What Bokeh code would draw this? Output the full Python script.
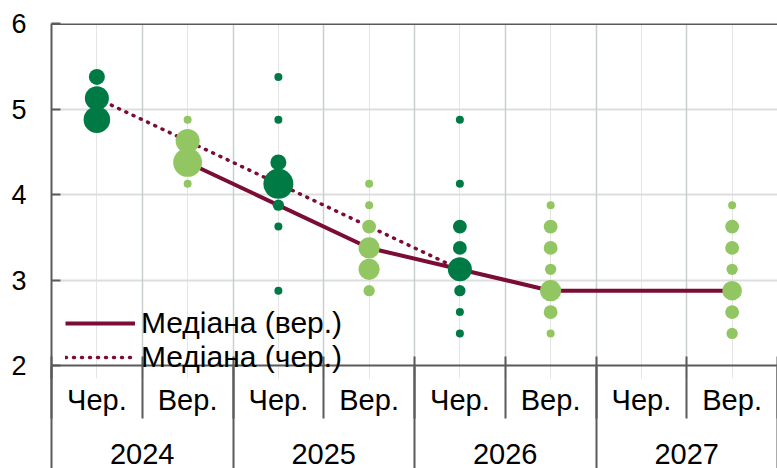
import math
from bokeh.plotting import figure
from bokeh.models import (FactorRange, Range1d, LinearAxis, FixedTicker, Grid, Span,
                          Legend, LegendItem, ColumnDataSource)
from bokeh.embed import file_html
from bokeh.resources import INLINE

# ---------------- data ----------------
years = ["2024", "2025", "2026", "2027"]
periods = ["Чер.", "Вер."]

# June survey (Чер.) dots: year, rate, number of answers
jun_year = ["2024", "2024", "2024",
            "2025", "2025", "2025", "2025", "2025", "2025", "2025",
            "2026", "2026", "2026", "2026", "2026", "2026", "2026", "2026"]
jun_rate = [5.375, 5.125, 4.875,
            5.375, 4.875, 4.375, 4.125, 3.875, 3.625, 2.875,
            4.875, 4.125, 3.625, 3.375, 3.125, 2.875, 2.625, 2.375]
jun_count = [4, 9, 11,
             1, 1, 4, 14, 2, 1, 1,
             1, 1, 3, 3, 9, 2, 1, 1]

# September survey (Вер.) dots
sep_year = ["2024", "2024", "2024", "2024",
            "2025", "2025", "2025", "2025", "2025", "2025",
            "2026", "2026", "2026", "2026", "2026", "2026", "2026",
            "2027", "2027", "2027", "2027", "2027", "2027", "2027"]
sep_rate = [4.875, 4.625, 4.375, 4.125,
            4.125, 3.875, 3.625, 3.375, 3.125, 2.875,
            3.875, 3.625, 3.375, 3.125, 2.875, 2.625, 2.375,
            3.875, 3.625, 3.375, 3.125, 2.875, 2.625, 2.375]
sep_count = [1, 9, 13, 1,
             1, 1, 3, 7, 7, 2,
             1, 3, 3, 2, 7, 3, 1,
             1, 3, 3, 2, 6, 3, 2]

# medians
med_jun_year = ["2024", "2025", "2026"]
med_jun = [5.125, 4.125, 3.125]
med_sep_year = ["2024", "2025", "2026", "2027"]
med_sep = [4.375, 3.375, 2.875, 2.875]

y_ticks = [2, 3, 4, 5, 6]

# ---------------- style ----------------
FONT = "Liberation Sans"
DARK = "#007A45"
LIGHT = "#92C662"
MAROON = "#7A0C35"
AXIS = "#5A5A5A"

factors = [(y, p) for y in years for p in periods]
x_range = FactorRange(factors=factors, factor_padding=0, group_padding=0,
                      subgroup_padding=0, range_padding=0)

# the frame reaches a little below the value 2 so that the legend is not clipped;
# the visible x-axis line is drawn at y = 2
p = figure(width=777, height=468, x_range=x_range, y_range=Range1d(1.848, 6),
           output_backend="svg", toolbar_location=None, x_axis_location=None,
           min_border_left=51, min_border_right=0, min_border_top=23,
           min_border_bottom=90)
p.outline_line_color = None
p.background_fill_color = "white"
p.border_fill_color = "white"

# y axis
yax = p.yaxis[0]
yax.ticker = FixedTicker(ticks=y_ticks)
yax.major_tick_in = 9
yax.major_tick_out = 0
yax.minor_tick_line_color = None
yax.axis_line_color = AXIS
yax.axis_line_width = 2
yax.major_tick_line_color = AXIS
yax.major_tick_line_width = 2
yax.major_label_text_font = FONT
yax.major_label_text_font_size = "27px"
yax.major_label_text_color = "black"
yax.major_label_standoff = 25

p.ygrid.ticker = FixedTicker(ticks=y_ticks[1:-1])
p.ygrid.grid_line_color = "#DCDEDE"
p.ygrid.grid_line_width = 2

# synthetic positions of the factor range (each factor is one unit wide)
nf = len(factors)
bounds_all = list(range(nf + 1))
bounds_year = list(range(0, nf + 1, 2))
centers = [i + 0.5 for i in range(nf)]
year_centers = [i + 1 for i in range(0, nf, 2)]

vgrid = Grid(dimension=0, ticker=FixedTicker(ticks=bounds_all[1:-1]),
             grid_line_color="#C9CED1", grid_line_width=1.5)
p.add_layout(vgrid)

# x axis level 1: survey month labels + short separators
ax1 = LinearAxis(ticker=FixedTicker(ticks=centers, minor_ticks=bounds_all),
                 major_label_overrides={c: f[1] for c, f in zip(centers, factors)})
ax1.axis_line_color = None
ax1.major_tick_in = 0
ax1.major_tick_out = 0
ax1.minor_tick_in = 22
ax1.minor_tick_out = 40
ax1.minor_tick_line_color = AXIS
ax1.minor_tick_line_width = 2
ax1.major_label_standoff = -35
ax1.major_label_text_font = FONT
ax1.major_label_text_font_size = "29px"
ax1.major_label_text_color = "black"
p.add_layout(ax1, "below")

# x axis level 2: years + long separators
ax2 = LinearAxis(ticker=FixedTicker(ticks=year_centers, minor_ticks=bounds_year),
                 major_label_overrides={c: y for c, y in zip(year_centers, years)})
ax2.axis_line_color = None
ax2.major_tick_in = 0
ax2.major_tick_out = 0
ax2.minor_tick_in = 52
ax2.minor_tick_out = 60
ax2.minor_tick_line_color = AXIS
ax2.minor_tick_line_width = 2
ax2.major_label_standoff = -35
ax2.major_label_text_font = FONT
ax2.major_label_text_font_size = "29px"
ax2.major_label_text_color = "black"
p.add_layout(ax2, "below")

# median lines (under dots)
r_sep = p.line(x=[(y, periods[1]) for y in med_sep_year], y=med_sep,
               line_color=MAROON, line_width=4)
r_jun = p.line(x=[(y, periods[0]) for y in med_jun_year], y=med_jun,
               line_color=MAROON, line_width=3.5, line_dash="1 7", line_cap="round")

# dots
jun_src = ColumnDataSource(dict(x=[(y, periods[0]) for y in jun_year], y=jun_rate,
                                s=[8 * math.sqrt(c) for c in jun_count]))
sep_src = ColumnDataSource(dict(x=[(y, periods[1]) for y in sep_year], y=sep_rate,
                                s=[8 * math.sqrt(c) for c in sep_count]))
p.scatter(x="x", y="y", size="s", source=jun_src, fill_color=DARK, line_color=None)
p.scatter(x="x", y="y", size="s", source=sep_src, fill_color=LIGHT, line_color=None)

legend = Legend(items=[LegendItem(label="Медіана (вер.)", renderers=[r_sep]),
                       LegendItem(label="Медіана (чер.)", renderers=[r_jun])],
                location=(14, 4))
legend.label_text_font = FONT
legend.label_text_font_size = "30px"
legend.label_text_color = "black"
legend.glyph_width = 70
legend.glyph_height = 32
legend.label_height = 32
legend.spacing = 0
legend.padding = 0
legend.margin = 0
legend.label_standoff = 6
legend.border_line_color = None
legend.background_fill_alpha = 0
p.add_layout(legend)

# frame lines: top border at 6 and the x-axis line at 2
p.add_layout(Span(location=y_ticks[-1], dimension="width", line_color=AXIS, line_width=3))
p.add_layout(Span(location=y_ticks[0], dimension="width", line_color=AXIS, line_width=2))

open("out.html", "w").write(file_html(p, INLINE))
